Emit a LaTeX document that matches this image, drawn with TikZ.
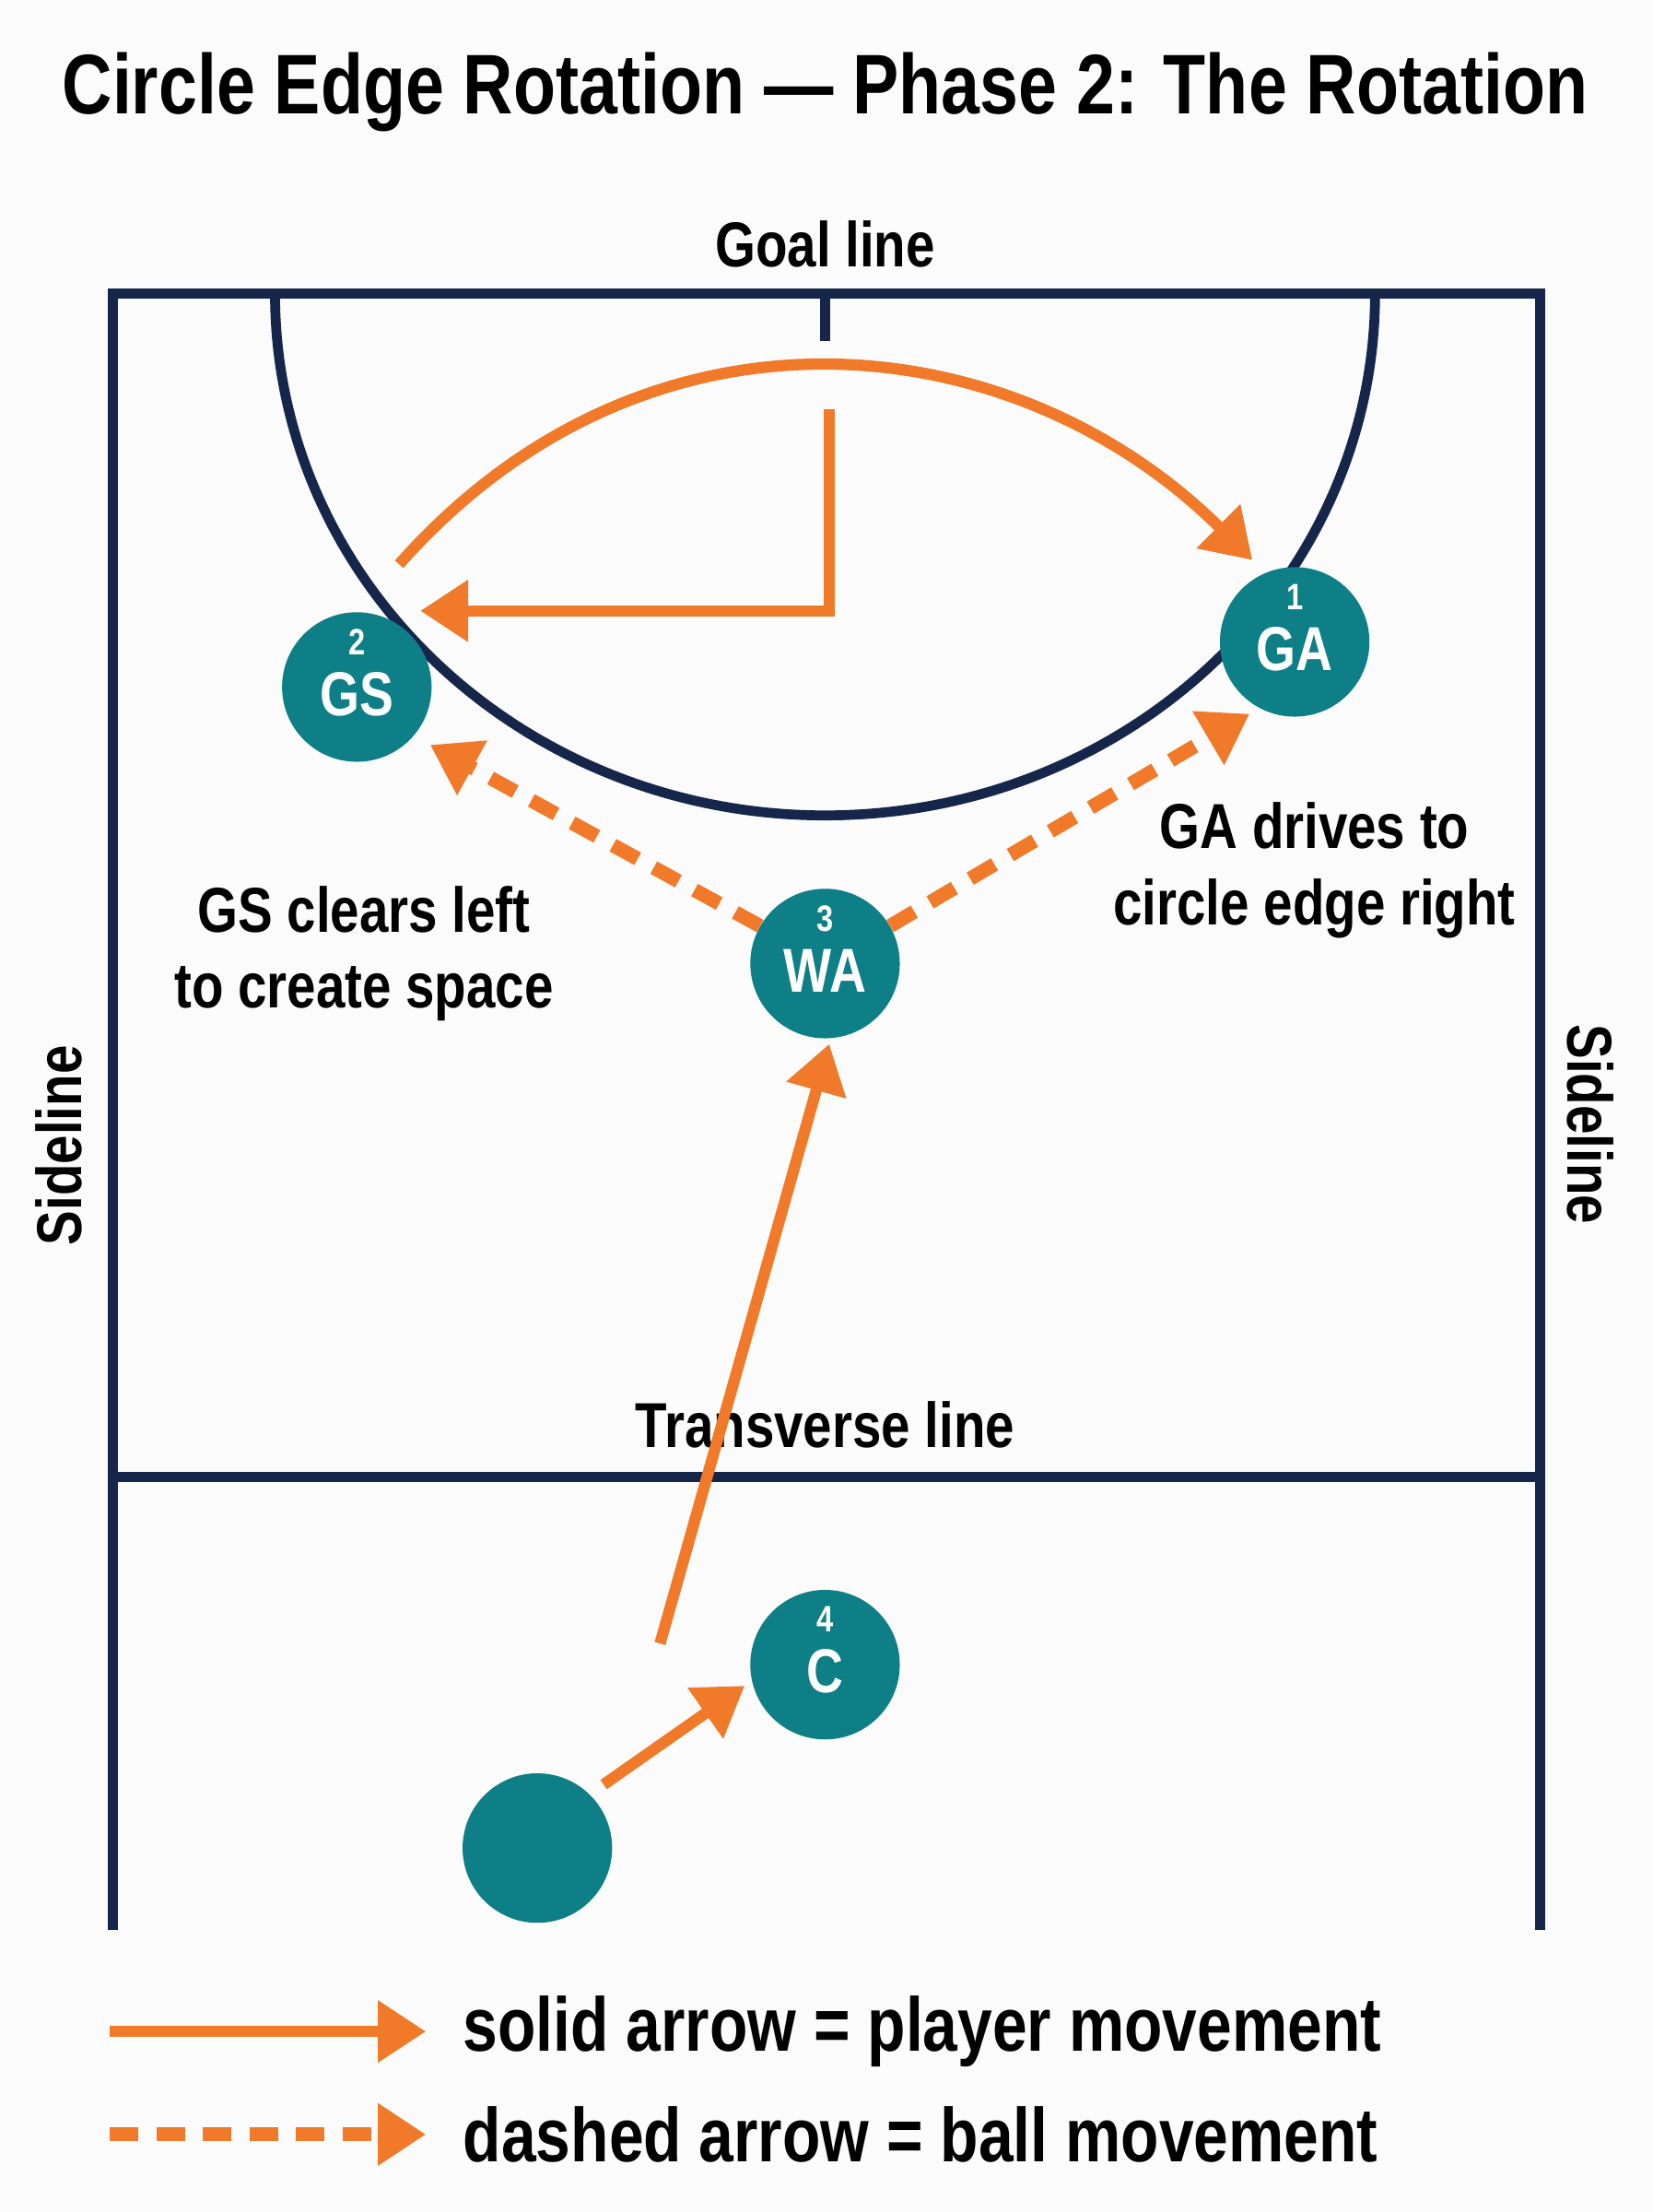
\documentclass[tikz,border=0pt]{standalone}
\usepackage{fontspec}
\setmainfont[FakeStretch=0.82]{Liberation Sans}
\usetikzlibrary{arrows.meta}
\definecolor{navy}{HTML}{16264A}
\definecolor{org}{HTML}{F07A2A}
\definecolor{teal}{HTML}{0E7F86}
\begin{document}
\begin{tikzpicture}[x=1pt,y=-1pt,
  court/.style={navy,line width=7pt},
  mv/.style={org,line width=8pt,-{Triangle[length=34pt,width=42pt]}},
  ball/.style={mv,line width=10pt,dash pattern=on 20pt off 13pt},
  pl/.style={circle,fill=teal,minimum size=106pt,inner sep=0pt},
  pt/.style={text=white,font=\bfseries\fontsize{44}{44}\selectfont,inner sep=0pt},
  pn/.style={text=white,font=\bfseries\fontsize{26}{26}\selectfont,inner sep=0pt},
  lab/.style={font=\bfseries\fontsize{45}{54}\selectfont,align=center}]
\fill[white!97!gray] (0,0) rectangle (1172,1568);
\useasboundingbox (0,0) rectangle (1172,1568);
\node[font=\bfseries\fontsize{60}{60}\selectfont] (title) at (585,65) {Circle Edge Rotation — Phase 2: The Rotation};
\node[lab] (goal) at (585,173) {Goal line};
\draw[court] (80,1368) -- (80,208) -- (1092,208) -- (1092,1368);
\draw[court] (80,1047) -- (1092,1047);
\draw[court] (585,208) -- (585,242);
\draw[court] (195,208) arc[start angle=180,end angle=0,x radius=390,y radius=370];
\node[lab] (tl) at (585,1010) {Transverse line};
\node[lab,rotate=90] (sl) at (42,812) {Sideline};
\node[lab,rotate=-90] (sr) at (1128,797) {Sideline};
\node[pl] (GS) at (253,487) {};
\node[pl] (GA) at (918,455) {};
\node[pl] (WA) at (585,683) {};
\node[pl] (C) at (585,1180) {};
\node[pl] (P) at (381,1310) {};
\node[pn] (n2) at (253,455) {2}; \node[pt] (t2) at (253,492) {GS};
\node[pn] (n1) at (918,423) {1}; \node[pt] (t1) at (918,460) {GA};
\node[pn] (n3) at (585,651) {3}; \node[pt] (t3) at (585,688) {WA};
\node[pn] (n4) at (585,1148) {4}; \node[pt] (t4) at (585,1185) {C};
\node[lab] (gst) at (258,676) {GS clears left\\to create space};
\node[lab] (gat) at (932,617) {GA drives to\\circle edge right};
\coordinate (a1) at (283,400); \coordinate (a2) at (888,397);
\draw[mv] (a1) .. controls (460,200) and (720,230) .. (a2);
\coordinate (l1) at (588,290); \coordinate (l2) at (588,433); \coordinate (l3) at (298,433);
\draw[mv] (l1) -- (l2) -- (l3);
\draw[ball] (WA.150) -- (305,528);
\draw[ball] (WA.30) -- (886,506);
\coordinate (c1) at (468,1165); \coordinate (c2) at (588,740);
\draw[mv] (c1) -- (c2);
\coordinate (p1) at (428,1265); \coordinate (p2) at (528,1195);
\draw[mv] (p1) -- (p2);
\coordinate (s1) at (78,1440); \coordinate (s2) at (302,1440);
\coordinate (d1) at (78,1513); \coordinate (d2) at (302,1513);
\draw[mv] (s1) -- (s2);
\draw[ball] (d1) -- (d2);
\node[lab,anchor=west,font=\bfseries\fontsize{54}{54}\selectfont] (lg1) at (325,1440) {solid arrow = player movement};
\node[lab,anchor=west,font=\bfseries\fontsize{54}{54}\selectfont] (lg2) at (325,1513) {dashed arrow = ball movement};
\end{tikzpicture}
\end{document}
